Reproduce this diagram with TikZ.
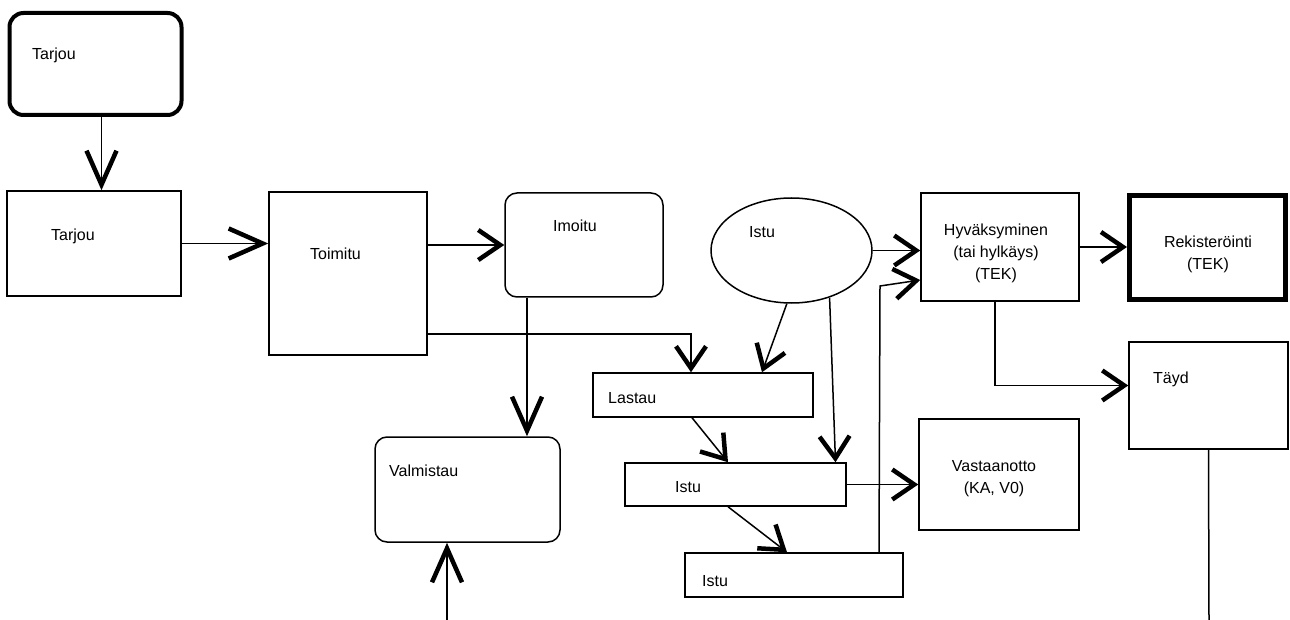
\documentclass[tikz,border=0pt]{standalone}
\usepackage{fontspec}
\setmainfont{Liberation Sans}
\usetikzlibrary{arrows.meta}
\usetikzlibrary{shapes.geometric}

\tikzset{
    box/.style={draw, line width=1.5pt, inner sep=0pt},
    rbox/.style={box, rounded corners=12pt},
    txt/.style={inner sep=0pt, font=\fontsize{16}{22}\selectfont},
    con/.style={line width=1.5pt},
    longtip/.style={con, -{Straight Barb[length=34pt, width=30pt, line width=4.5pt]}},
    shorttip/.style={con, -{Straight Barb[length=22pt, width=30pt, line width=4.5pt]}},
}

\begin{document}
\begin{tikzpicture}[x=1pt, y=-1pt]
    \useasboundingbox (0, 0) rectangle (1290, 620);

    \node[rbox, line width=4pt, rounded corners=14pt, minimum width=172, minimum height=102] (toptarjou) at (95.5, 64) {};
    \node[box, minimum width=174, minimum height=105] (tarjou) at (94, 243.5) {};
    \node[box, minimum width=158, minimum height=163] (toimitu) at (348, 273.5) {};
    \node[rbox, minimum width=158, minimum height=104] (imoitu) at (584, 245) {};
    \node[rbox, minimum width=185, minimum height=105] (valmistau) at (467.5, 489.5) {};
    \node[box, ellipse, minimum width=161, minimum height=105] (istuA) at (791.5, 250.5) {};
    \node[box, minimum width=220, minimum height=44] (lastau) at (703, 395) {};
    \node[box, minimum width=221, minimum height=43] (istuB) at (735.5, 484.5) {};
    \node[box, minimum width=218, minimum height=44] (istuC) at (794, 575) {};
    \node[box, minimum width=158, minimum height=108] (hyv) at (1000, 247) {};
    \node[box, line width=5pt, minimum width=156, minimum height=104] (rek) at (1207.5, 247.5) {};
    \node[box, minimum width=159, minimum height=107] (tayd) at (1208.5, 395.5) {};
    \node[box, minimum width=160, minimum height=111] (vast) at (999, 474.5) {};

    \node[txt, anchor=base west] (toptarjou-l) at (32, 60) {Tarjou};
    \node[txt, anchor=base west] (tarjou-l) at (51, 241) {Tarjou};
    \node[txt, anchor=base west] (toimitu-l) at (310, 260) {Toimitu};
    \node[txt, anchor=base west] (imoitu-l) at (553, 232) {Imoitu};
    \node[txt, anchor=base west] (valmistau-l) at (389, 476) {Valmistau};
    \node[txt, anchor=base west] (istuA-l) at (749, 238) {Istu};
    \node[txt, anchor=base west] (lastau-l) at (608, 403) {Lastau};
    \node[txt, anchor=base west] (istuB-l) at (675, 492) {Istu};
    \node[txt, anchor=base west] (istuC-l) at (702, 586) {Istu};
    \node[txt, anchor=base west] (tayd-l) at (1153, 383) {Täyd};
    \node[txt, align=center] (hyv-l) at (996, 253) {Hyväksyminen\\(tai hylkäys)\\(TEK)};
    \node[txt, align=center] (rek-l) at (1208, 254) {Rekisteröinti\\(TEK)};
    \node[txt, align=center] (vast-l) at (994, 479) {Vastaanotto\\(KA, V0)};

    \coordinate (vbot) at (447, 620);
    \coordinate (tbot) at (1209, 620);
    \coordinate (bend) at (880, 286);

    \draw[longtip] ([xshift=6pt]toptarjou.south) -- ([xshift=6pt]toptarjou.south |- tarjou.north);
    \draw[longtip] (tarjou.east) -- (tarjou.east -| toimitu.west);
    \draw[shorttip] (imoitu.west -| toimitu.east) -- (imoitu.west);
    \draw[shorttip] ([yshift=22pt]toimitu.south east) -| ([xshift=-12pt]lastau.north);
    \draw[longtip] ([xshift=-57pt]imoitu.south) -- ([xshift=-57pt]imoitu.south |- valmistau.north);
    \draw[longtip] (vbot) -- (vbot |- valmistau.south);

    \draw[shorttip] (istuA.265) -- ([xshift=59pt]lastau.north);
    \draw[shorttip] (istuA.309) -- ([xshift=100pt]istuB.north);
    \draw[shorttip] (istuA.east) -- (istuA.east -| hyv.west);
    \draw[shorttip] ([xshift=-11pt]lastau.south) -- ([xshift=-7.5pt]istuB.north);
    \draw[shorttip] ([xshift=-7.5pt]istuB.south) -- ([xshift=-7pt]istuC.north);
    \draw[shorttip] (istuB.east) -- (istuB.east -| vast.west);
    \draw[shorttip] ([xshift=85pt]istuC.north) -- (bend) -- ([yshift=-33pt]hyv.west);

    \draw[shorttip] (hyv.east) -- (hyv.east -| rek.west);
    \draw[shorttip] ([xshift=-5pt]hyv.south) |- ([yshift=10pt]tayd.west);
    \draw[con] (tayd.south) -- (tbot);
\end{tikzpicture}
\end{document}
